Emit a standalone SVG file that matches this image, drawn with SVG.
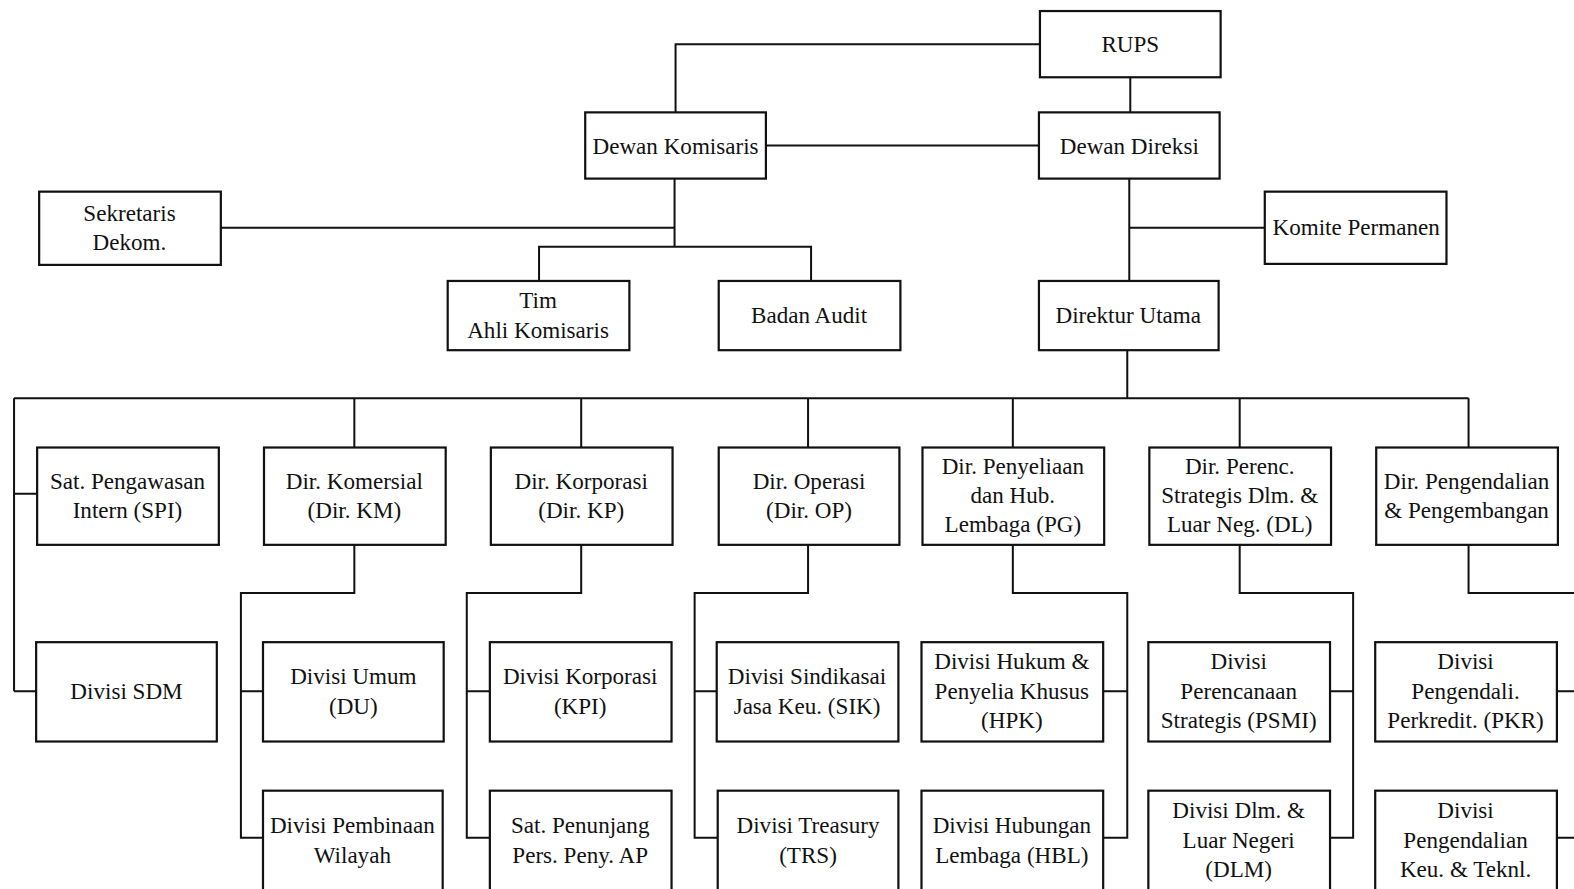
<svg xmlns="http://www.w3.org/2000/svg" width="1574" height="889" viewBox="0 0 1574 889">
<style>
.box{fill:#fff;stroke:#111;stroke-width:2.2}
.ln{fill:none;stroke:#111;stroke-width:2}
text{font-family:"Liberation Serif","Times New Roman",serif;font-size:23px;fill:#111;text-anchor:middle}
</style>
<rect width="1574" height="889" fill="#fff"/>
<g transform="scale(1.0038,1.0034)">
<g id="connectors">
<path class="ln" d="M1036,44 H673 V112"/>
<path class="ln" d="M1126,77 V112"/>
<path class="ln" d="M763,145 H1035"/>
<path class="ln" d="M672,178 V246 M220,227 H672 M537,280 V246 H808 V280"/>
<path class="ln" d="M1125,178 V280 M1125,227 H1260"/>
<path class="ln" d="M1123,349 V397 M14,397 H1463"/>
<path class="ln" d="M14,397 V689 M14,492 H37 M14,689 H36"/>
<path class="ln" d="M353,397 V446 M579,397 V446 M805,397 V446 M1009,397 V446 M1235,397 V446 M1463,397 V446"/>
<path class="ln" d="M353,543 V591 H240 V835 H262 M240,689 H262"/>
<path class="ln" d="M579,543 V591 H465 V835 H488 M465,689 H488"/>
<path class="ln" d="M805,543 V591 H692 V835 H715 M692,689 H714"/>
<path class="ln" d="M1009,543 V591 H1123 V835 H1099 M1123,689 H1099"/>
<path class="ln" d="M1235,543 V591 H1348 V835 H1325 M1348,689 H1325"/>
<path class="ln" d="M1463,543 V591 H1575 M1551,689 H1575 M1551,835 H1575"/>
</g>
<g id="rups"><rect class="box" x="1036" y="11" width="180" height="66"/><text x="1126" y="52">RUPS</text></g>
<g id="dewan-komisaris"><rect class="box" x="583" y="112" width="180" height="66"/><text x="673" y="153">Dewan Komisaris</text></g>
<g id="dewan-direksi"><rect class="box" x="1035" y="112" width="180" height="66"/><text x="1125" y="153">Dewan Direksi</text></g>
<g id="sekretaris"><rect class="box" x="39" y="191" width="181" height="73"/><text x="129" y="220">Sekretaris</text><text x="129" y="249">Dekom.</text></g>
<g id="tim-ahli"><rect class="box" x="446" y="280" width="181" height="69"/><text x="536" y="307">Tim</text><text x="536" y="337">Ahli Komisaris</text></g>
<g id="badan-audit"><rect class="box" x="716" y="280" width="181" height="69"/><text x="806" y="322">Badan Audit</text></g>
<g id="komite"><rect class="box" x="1260" y="191" width="181" height="72"/><text x="1351" y="234">Komite Permanen</text></g>
<g id="dirut"><rect class="box" x="1035" y="280" width="179" height="69"/><text x="1124" y="322">Direktur Utama</text></g>

<g id="spi"><rect class="box" x="37" y="446" width="181" height="97"/><text x="127" y="487">Sat. Pengawasan</text><text x="127" y="516">Intern (SPI)</text></g>
<g id="dir-km"><rect class="box" x="263" y="446" width="181" height="97"/><text x="353" y="487">Dir. Komersial</text><text x="353" y="516">(Dir. KM)</text></g>
<g id="dir-kp"><rect class="box" x="489" y="446" width="181" height="97"/><text x="579" y="487">Dir. Korporasi</text><text x="579" y="516">(Dir. KP)</text></g>
<g id="dir-op"><rect class="box" x="716" y="446" width="180" height="97"/><text x="806" y="487">Dir. Operasi</text><text x="806" y="516">(Dir. OP)</text></g>
<g id="dir-pg"><rect class="box" x="919" y="446" width="181" height="97"/><text x="1009" y="472">Dir. Penyeliaan</text><text x="1009" y="501">dan Hub.</text><text x="1009" y="530">Lembaga (PG)</text></g>
<g id="dir-dl"><rect class="box" x="1145" y="446" width="181" height="97"/><text x="1235" y="472">Dir. Perenc.</text><text x="1235" y="501">Strategis Dlm. &amp;</text><text x="1235" y="530">Luar Neg. (DL)</text></g>
<g id="dir-pp"><rect class="box" x="1371" y="446" width="181" height="97"/><text x="1461" y="487">Dir. Pengendalian</text><text x="1461" y="516">&amp; Pengembangan</text></g>

<g id="sdm"><rect class="box" x="36" y="640" width="180" height="99"/><text x="126" y="697">Divisi SDM</text></g>
<g id="du"><rect class="box" x="262" y="640" width="180" height="99"/><text x="352" y="682">Divisi Umum</text><text x="352" y="712">(DU)</text></g>
<g id="kpi"><rect class="box" x="488" y="640" width="181" height="99"/><text x="578" y="682">Divisi Korporasi</text><text x="578" y="712">(KPI)</text></g>
<g id="sik"><rect class="box" x="714" y="640" width="181" height="99"/><text x="804" y="682">Divisi Sindikasai</text><text x="804" y="712">Jasa Keu. (SIK)</text></g>
<g id="hpk"><rect class="box" x="918" y="640" width="181" height="99"/><text x="1008" y="667">Divisi Hukum &amp;</text><text x="1008" y="697">Penyelia Khusus</text><text x="1008" y="726">(HPK)</text></g>
<g id="psmi"><rect class="box" x="1144" y="640" width="181" height="99"/><text x="1234" y="667">Divisi</text><text x="1234" y="697">Perencanaan</text><text x="1234" y="726">Strategis (PSMI)</text></g>
<g id="pkr"><rect class="box" x="1370" y="640" width="181" height="99"/><text x="1460" y="667">Divisi</text><text x="1460" y="697">Pengendali.</text><text x="1460" y="726">Perkredit. (PKR)</text></g>

<g id="pembinaan"><rect class="box" x="262" y="788" width="179" height="100"/><text x="351" y="830">Divisi Pembinaan</text><text x="351" y="860">Wilayah</text></g>
<g id="penunjang"><rect class="box" x="488" y="788" width="181" height="100"/><text x="578" y="830">Sat. Penunjang</text><text x="578" y="860">Pers. Peny. AP</text></g>
<g id="trs"><rect class="box" x="715" y="788" width="180" height="100"/><text x="805" y="830">Divisi Treasury</text><text x="805" y="860">(TRS)</text></g>
<g id="hbl"><rect class="box" x="918" y="788" width="181" height="100"/><text x="1008" y="830">Divisi Hubungan</text><text x="1008" y="860">Lembaga (HBL)</text></g>
<g id="dlm"><rect class="box" x="1144" y="788" width="181" height="100"/><text x="1234" y="815">Divisi Dlm. &amp;</text><text x="1234" y="845">Luar Negeri</text><text x="1234" y="874">(DLM)</text></g>
<g id="keu-teknl"><rect class="box" x="1370" y="788" width="181" height="100"/><text x="1460" y="815">Divisi</text><text x="1460" y="845">Pengendalian</text><text x="1460" y="874">Keu. &amp; Teknl.</text></g>
</g>
</svg>
